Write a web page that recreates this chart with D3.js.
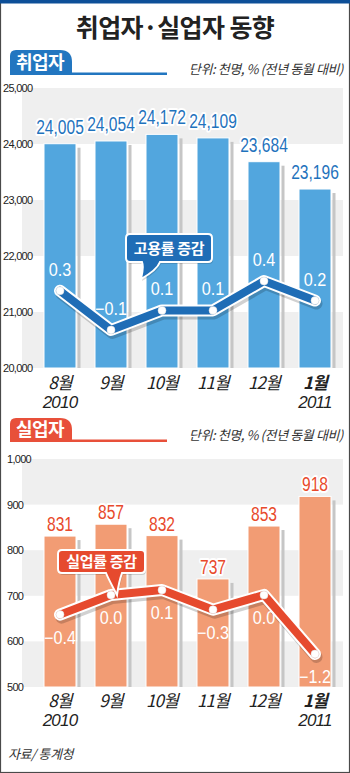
<!DOCTYPE html>
<html><head><meta charset="utf-8">
<script src="https://cdn.jsdelivr.net/npm/d3@7/dist/d3.min.js"></script>
<style>
html,body{margin:0;padding:0;background:#fff;}
svg{display:block;}
</style></head>
<body>
<svg id="c" width="350" height="773"></svg>
<script>
const months = ["8월","9월","10월","11월","12월","1월"];
const years = ["2010","","","","","2011"];
const employed = [24005, 24054, 24172, 24109, 23684, 23196];
const employRate = [0.3, -0.1, 0.1, 0.1, 0.4, 0.2];
const unemployed = [831, 857, 832, 737, 853, 918];
const unemployRate = [-0.4, 0.0, 0.1, -0.3, 0.0, -1.2];
const ticks1 = [20000, 21000, 22000, 23000, 24000, 25000];
const ticks2 = [500, 600, 700, 800, 900, 1000];

const KR = "'Noto Sans CJK KR','Noto Sans',sans-serif";
const NUM = "'Liberation Sans',Arial,sans-serif";

const svg = d3.select("#c");
const W = 350, H = 773;

// frame
svg.append("rect").attr("x",0.5).attr("y",0.5).attr("width",W-1).attr("height",H-1)
  .attr("fill","#fff").attr("stroke","#4a4a4a").attr("stroke-width",1.2);
svg.append("rect").attr("x",0).attr("y",0).attr("width",W).attr("height",3.5).attr("fill","#0d4f98");

// title
svg.append("text").attr("x",175).attr("y",37).attr("text-anchor","middle")
  .attr("font-family",KR).attr("font-weight",700).attr("font-size",25)
  .attr("letter-spacing",-0.6).attr("fill","#222").text("취업자·실업자 동향");

const fmtRate = v => (v < 0 ? "\u2212" : "") + Math.abs(v).toFixed(1);
const fmtVal = d3.format(",");

const x = d3.scalePoint().domain(months).range([60, 315]);
const barW = 32;

function tabPath(x0, y0, w, h){
  const r1 = 6, r2 = 12;
  return `M${x0},${y0+h} V${y0+r1} Q${x0},${y0} ${x0+r1},${y0} H${x0+w-r2} Q${x0+w},${y0} ${x0+w},${y0+r2} V${y0+h} Z`;
}

function calloutPath(bx, by, w, h, r, t1, t2, tx, ty){
  return `M${bx+r},${by} H${bx+w-r} Q${bx+w},${by} ${bx+w},${by+r} V${by+h-r} Q${bx+w},${by+h} ${bx+w-r},${by+h} H${t2} Q${t2-3},${by+h+8} ${tx},${ty} Q${t1+2},${by+h+5} ${t1},${by+h} H${bx+r} Q${bx},${by+h} ${bx},${by+h-r} V${by+r} Q${bx},${by} ${bx+r},${by} Z`;
}

function section(cfg){
  const g = svg.append("g");
  // tab
  g.append("path").attr("d", tabPath(10, cfg.tabY, 62, cfg.tabH)).attr("fill", cfg.tabColor);
  g.append("rect").attr("x",10).attr("y",cfg.tabY+cfg.tabH-2.5).attr("width",157).attr("height",2.5).attr("fill",cfg.tabColor);
  g.append("text").attr("x",40).attr("y",cfg.tabY+cfg.tabH-6).attr("text-anchor","middle")
    .attr("font-family",KR).attr("font-weight",700).attr("font-size",18).attr("letter-spacing",-0.5)
    .attr("fill","#fff").text(cfg.title);
  g.append("text").attr("x",343).attr("y",cfg.unitY).attr("text-anchor","end")
    .attr("font-family",KR).attr("font-style","italic").attr("font-size",13).attr("letter-spacing",-0.4)
    .attr("fill","#333").text("단위: 천명, % (전년 동월 대비)");

  const y = d3.scaleLinear().domain(cfg.domain).range(cfg.range);
  const ticks = cfg.ticks;
  // bands
  for (let i = ticks.length - 1; i > 0; i -= 2) {
    g.append("rect").attr("x",22).attr("width",321)
      .attr("y", y(ticks[i])).attr("height", y(ticks[i-1]) - y(ticks[i]))
      .attr("fill","#efefef");
  }
  // y labels
  g.selectAll(".yl").data(ticks).join("text")
    .attr("x", cfg.ylx).attr("y", d => y(d) + 4)
    .attr("font-family", NUM).attr("font-size", 11).attr("letter-spacing",-0.7)
    .attr("fill","#222").text(d => fmtVal(d));

  const base = y(cfg.domain[0]);
  // bar shadows
  g.selectAll(".sh").data(cfg.values).join("rect")
    .attr("x", (d,i) => x(months[i]) + barW/2 + 1.5).attr("width", 3)
    .attr("y", d => y(d) + 4).attr("height", d => base - y(d) - 4)
    .attr("fill","#c6c6c6");
  // bars
  g.selectAll(".bar").data(cfg.values).join("rect")
    .attr("x", (d,i) => x(months[i]) - barW/2).attr("width", barW)
    .attr("y", d => y(d)).attr("height", d => base - y(d))
    .attr("fill", cfg.barColor).attr("stroke","#fff").attr("stroke-width",1);
  // value labels (condensed)
  g.selectAll(".vl").data(cfg.values).join("text")
    .attr("transform", (d,i) => `translate(${x(months[i])},${y(d) - cfg.valOff}) scale(0.8,1)`)
    .attr("text-anchor","middle").attr("font-family",NUM).attr("font-size",19.5)
    .attr("fill", cfg.valColor).attr("stroke","#fff").attr("stroke-width",4)
    .attr("paint-order","stroke").attr("stroke-linejoin","round")
    .text(d => fmtVal(d));

  // line
  const y2 = d3.scaleLinear().domain(cfg.rDomain).range(cfg.rRange);
  const pts = cfg.rates.map((v,i) => [x(months[i]), y2(v)]);
  const line = d3.line();
  g.append("path").attr("d", line(pts)).attr("fill","none").attr("stroke","#000").attr("stroke-opacity",0.18)
    .attr("stroke-width",12).attr("stroke-linejoin","round").attr("stroke-linecap","round")
    .attr("transform","translate(1.5,3)");
  g.append("path").attr("d", line(pts)).attr("fill","none").attr("stroke","#fff")
    .attr("stroke-width",12).attr("stroke-linejoin","round").attr("stroke-linecap","round");
  g.append("path").attr("d", line(pts)).attr("fill","none").attr("stroke",cfg.lineColor)
    .attr("stroke-width",8).attr("stroke-linejoin","round").attr("stroke-linecap","round");
  g.selectAll(".dot").data(pts).join("circle")
    .attr("cx", d => d[0]).attr("cy", d => d[1]).attr("r", 4)
    .attr("fill","#fff").attr("stroke","#ddd").attr("stroke-width",0.5);
  g.selectAll(".rl").data(cfg.rates).join("text")
    .attr("transform", (d,i) => `translate(${x(months[i])},${pts[i][1] + cfg.rateOff}) scale(0.9,1)`)
    .attr("text-anchor","middle").attr("font-family",NUM).attr("font-size",18)
    .attr("fill","#fff").text(d => fmtRate(d));

  // callout
  const c = cfg.callout;
  g.append("path").attr("d", calloutPath(c.x, c.y, c.w, c.h, 4, c.t1, c.t2, c.tx, c.ty))
    .attr("fill","#000").attr("fill-opacity",0.15).attr("transform","translate(1,2)");
  g.append("path").attr("d", calloutPath(c.x, c.y, c.w, c.h, 4, c.t1, c.t2, c.tx, c.ty))
    .attr("fill", cfg.lineColor).attr("stroke","#fff").attr("stroke-width",2);
  g.append("text").attr("x", c.x + c.w/2).attr("y", c.y + c.h/2 + 5.5).attr("text-anchor","middle")
    .attr("font-family",KR).attr("font-weight",700).attr("font-size",15).attr("letter-spacing",-0.3)
    .attr("fill","#fff").text(cfg.calloutText);

  // x labels
  g.selectAll(".xl").data(months).join("text")
    .attr("x", d => x(d)).attr("y", cfg.xlY).attr("text-anchor","middle")
    .attr("font-family",KR).attr("font-style","italic").attr("font-size",17).attr("letter-spacing",-0.8)
    .attr("font-weight",(d,i) => i === months.length-1 ? 700 : 400)
    .attr("fill","#222").text(d => d);
  g.selectAll(".yr").data(years).join("text")
    .attr("x", (d,i) => x(months[i])).attr("y", cfg.xlY + 19).attr("text-anchor","middle")
    .attr("font-family",NUM).attr("font-style","italic").attr("font-size",17).attr("letter-spacing",-0.8)
    .attr("fill","#222").text(d => d);
}

section({
  title:"취업자", tabY:50, tabH:25, tabColor:"#2276c0", unitY:74,
  domain:[20000,25000], range:[368,88], ticks:ticks1, ylx:3,
  values:employed, barColor:"#52a6de", valColor:"#1f73bd", valOff:10,
  rates:employRate, rDomain:[-0.1,0.4], rRange:[330,281], rateOff:-15,
  lineColor:"#1f6db6",
  callout:{x:126,y:234,w:86,h:28,t1:142,t2:160,tx:141,ty:279}, calloutText:"고용률 증감",
  xlY:389
});

section({
  title:"실업자", tabY:418, tabH:24, tabColor:"#e8503a", unitY:440,
  domain:[500,1000], range:[687,459], ticks:ticks2, ylx:7,
  values:unemployed, barColor:"#f29c74", valColor:"#e84a2c", valOff:5,
  rates:unemployRate, rDomain:[-1.2,0.1], rRange:[654,590], rateOff:29,
  lineColor:"#e64a2e",
  callout:{x:58,y:550,w:87,h:23,t1:106,t2:122,tx:117,ty:595}, calloutText:"실업률 증감",
  xlY:707
});

svg.append("text").attr("x",8).attr("y",759)
  .attr("font-family",KR).attr("font-style","italic").attr("font-size",13).attr("letter-spacing",-0.4)
  .attr("fill","#333").text("자료/ 통계청");
</script>
</body></html>
